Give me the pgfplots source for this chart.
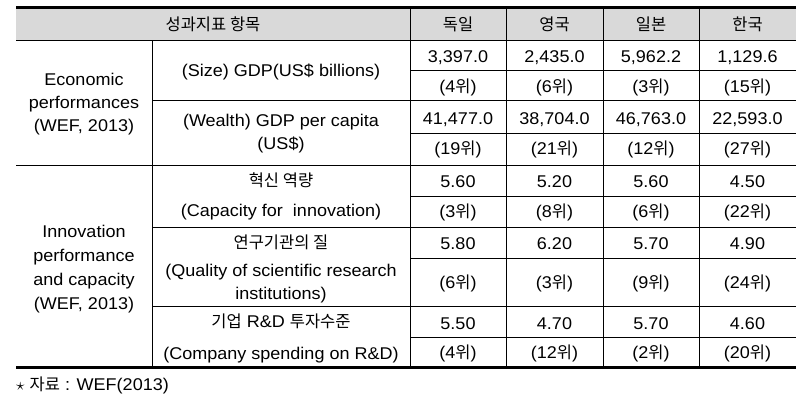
\documentclass[border=0pt]{standalone}
\usepackage{fontspec}
\setmainfont{Liberation Sans}[FakeStretch=1.06]
\newfontfamily\kr{Noto Sans CJK KR}[Scale=0.97]
\usepackage{pgfplots}
\usepackage{pgfplotstable}
\pgfplotsset{compat=1.18}
\definecolor{hdr}{HTML}{D9D9D9}

% value cells: x (column centre), y (baseline, px from top), value
\pgfplotstableread{
x y v
458 63 3,397.0
554.5 63 2,435.0
651 63 5,962.2
747.5 63 1,129.6
458 124.5 41,477.0
554.5 124.5 38,704.0
651 124.5 46,763.0
747.5 124.5 22,593.0
458 188 5.60
554.5 188 5.20
651 188 5.60
747.5 188 4.50
458 250 5.80
554.5 250 6.20
651 250 5.70
747.5 250 4.90
458 330 5.50
554.5 330 4.70
651 330 5.70
747.5 330 4.60
}\vals

% rank cells
\pgfplotstableread{
x y r
458 93 4
554.5 93 6
651 93 3
747.5 93 15
458 155 19
554.5 155 21
651 155 12
747.5 155 27
458 218 3
554.5 218 8
651 218 6
747.5 218 22
458 289 6
554.5 289 3
651 289 9
747.5 289 24
458 359 4
554.5 359 12
651 359 2
747.5 359 20
}\ranks

\begin{document}
\begin{tikzpicture}
\fontsize{17}{24}\selectfont
\begin{axis}[
  scale only axis, width=807pt, height=406pt,
  xmin=0, xmax=807, ymin=0, ymax=406, y dir=reverse,
  hide axis, clip=false,
  every node/.append style={font=\fontsize{17}{24}\selectfont},
]
\path (axis cs:0,0) rectangle (axis cs:807,406);
% header background
\fill[hdr] (axis cs:16,9.5) rectangle (axis cs:796,40.5);
% thick rules
\draw[line width=3pt] (axis cs:16,8) -- (axis cs:796,8);
\draw[line width=3pt] (axis cs:16,368) -- (axis cs:796,368);
% thin full-width rules
\draw[line width=1pt] (axis cs:16,40.5) -- (axis cs:796,40.5);
\draw[line width=1pt] (axis cs:16,165.5) -- (axis cs:796,165.5);
% col2 + values rules
\draw[line width=1pt] (axis cs:152,101) -- (axis cs:796,101);
\draw[line width=1pt] (axis cs:152,228) -- (axis cs:796,228);
\draw[line width=1pt] (axis cs:152,307) -- (axis cs:796,307);
% values only rules
\draw[line width=1pt] (axis cs:410,71) -- (axis cs:796,71);
\draw[line width=1pt] (axis cs:410,133.5) -- (axis cs:796,133.5);
\draw[line width=1pt] (axis cs:410,197) -- (axis cs:796,197);
\draw[line width=1pt] (axis cs:410,259) -- (axis cs:796,259);
\draw[line width=1pt] (axis cs:410,338) -- (axis cs:796,338);
% verticals
\draw[line width=1pt] (axis cs:152,40.5) -- (axis cs:152,368);
\draw[line width=1pt] (axis cs:410,9.5) -- (axis cs:410,366.5);
\draw[line width=1pt] (axis cs:506,9.5) -- (axis cs:506,366.5);
\draw[line width=1pt] (axis cs:603,9.5) -- (axis cs:603,366.5);
\draw[line width=1pt] (axis cs:699,9.5) -- (axis cs:699,366.5);

% header text
\node[anchor=base] at (axis cs:213,31) {\kr 성과지표 항목};
\node[anchor=base] at (axis cs:458,31) {\kr 독일};
\node[anchor=base] at (axis cs:554.5,31) {\kr 영국};
\node[anchor=base] at (axis cs:651,31) {\kr 일본};
\node[anchor=base] at (axis cs:747.5,31) {\kr 한국};

% first column
\node[anchor=base] at (axis cs:84,86) {Economic};
\node[anchor=base] at (axis cs:84,109) {performances};
\node[anchor=base] at (axis cs:84,132) {(WEF, 2013)};
\node[anchor=base] at (axis cs:84,237.5) {Innovation};
\node[anchor=base] at (axis cs:84,261.5) {performance};
\node[anchor=base] at (axis cs:84,286) {and capacity};
\node[anchor=base] at (axis cs:84,310) {(WEF, 2013)};

% second column
\node[anchor=base] at (axis cs:281,77) {(Size) GDP(US\$ billions)};
\node[anchor=base] at (axis cs:281,127) {(Wealth) GDP per capita};
\node[anchor=base] at (axis cs:281,150) {(US\$)};
\node[anchor=base] at (axis cs:281,187) {\kr 혁신 역량};
\node[anchor=base] at (axis cs:281,217) {(Capacity for\ \ innovation)};
\node[anchor=base] at (axis cs:281,249) {\kr 연구기관의 질};
\node[anchor=base] at (axis cs:281,276.5) {(Quality of scientific research};
\node[anchor=base] at (axis cs:281,300) {institutions)};
\node[anchor=base] at (axis cs:281,328) {{\kr 기업} R\&D {\kr 투자수준}};
\node[anchor=base] at (axis cs:281,360) {(Company spending on R\&D)};

% data
\addplot[draw=none, mark=none, point meta=explicit symbolic,
  nodes near coords={\pgfplotspointmeta},
  every node near coord/.append style={anchor=base, font=\fontsize{17}{24}\selectfont}]
  table[x=x, y=y, meta=v] {\vals};
\addplot[draw=none, mark=none, point meta=explicit symbolic,
  nodes near coords={(\pgfplotspointmeta{\kr 위})},
  every node near coord/.append style={anchor=base, font=\fontsize{17}{24}\selectfont}]
  table[x=x, y=y, meta=r] {\ranks};

% footnote
\node[anchor=base west, inner sep=0pt] at (axis cs:16,391) {$\star$ {\kr 자료} : WEF(2013)};
\end{axis}
\end{tikzpicture}
\end{document}
